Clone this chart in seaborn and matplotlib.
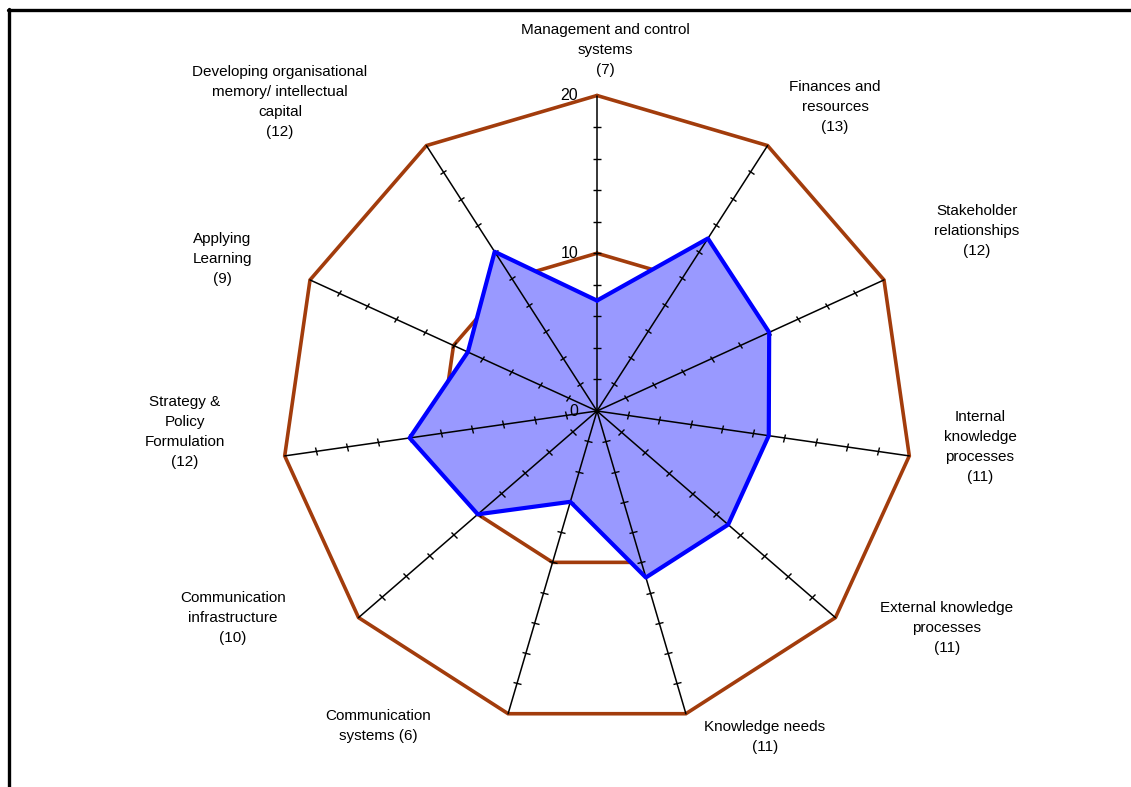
import numpy as np
import pandas as pd
import matplotlib
matplotlib.use("Agg")
import matplotlib.pyplot as plt
import seaborn as sns
from matplotlib.markers import MarkerStyle
from matplotlib.transforms import Affine2D
from matplotlib.lines import Line2D

# ---------------- data ----------------
categories = [
    "Management and control\nsystems",
    "Finances and\nresources",
    "Stakeholder\nrelationships",
    "Internal\nknowledge\nprocesses",
    "External knowledge\nprocesses",
    "Knowledge needs",
    "Communication\nsystems",
    "Communication\ninfrastructure",
    "Strategy &\nPolicy\nFormulation",
    "Applying\nLearning",
    "Developing organisational\nmemory/ intellectual\ncapital",
]
count_separators = ["\n", "\n", "\n", "\n", "\n", "\n", " ", "\n", "\n", "\n", "\n"]
scores = [7, 13, 12, 11, 11, 11, 6, 10, 12, 9, 12]
ring_levels = [10, 20]
scale_values = [0, 10, 20]
scale_labels = ["0", "10", "20"]
tick_values = [2, 4, 6, 8, 10, 12, 14, 16, 18]

# label centres in figure pixels (x, y from top)
label_pos = [(605, 50), (835, 107), (977, 231), (980, 447), (947, 628),
             (765, 737), (378, 726), (233, 618), (185, 432), (222, 259), (280, 102)]

W, H = 1131, 787
BROWN = "#A23C0C"
BLUE = "#0000FF"
FILL = "#9999FF"

sns.set_theme(style="white")
plt.rcParams["font.family"] = ["Liberation Sans", "DejaVu Sans"]

fig = plt.figure(figsize=(W / 100, H / 100), dpi=100)
fig.patch.set_facecolor("white")

cx, cy, R = 597, 411, 315.5
ax = fig.add_axes([(cx - R) / W, (H - cy - R) / H, 2 * R / W, 2 * R / H], projection="polar")
ax.set_theta_zero_location("N")
ax.set_theta_direction(-1)
ax.set_facecolor("none")

n = len(categories)
theta = np.linspace(0, 2 * np.pi, n, endpoint=False)
theta_c = np.append(theta, theta[0])

# rings
for lvl in ring_levels:
    ax.plot(theta_c, [lvl] * (n + 1), color=BROWN, lw=2.6, clip_on=False, zorder=1,
            solid_joinstyle="miter")

# filled series
sc = np.append(scores, scores[0])
ax.fill(theta_c, sc, color=FILL, zorder=2, clip_on=False)

# spokes
for th in theta:
    ax.plot([th, th], [0, 20], color="black", lw=1.1, zorder=3, clip_on=False)
    deg = np.degrees(th)
    ms = MarkerStyle("_", transform=Affine2D().rotate_deg(-deg))
    ax.plot([th] * len(tick_values), tick_values, linestyle="none", marker=ms,
            markersize=5.5, markeredgewidth=1.0, color="black", zorder=3, clip_on=False)

# series outline via seaborn
df = pd.DataFrame({"theta": theta_c, "score": sc})
sns.lineplot(data=df, x="theta", y="score", sort=False, estimator=None, ax=ax,
             color=BLUE, lw=3, zorder=4, clip_on=False)
ax.set_xlabel("")
ax.set_ylabel("")
ax.set_xticks([])
ax.set_yticks([])
ax.set_ylim(0, 20)
ax.grid(False)
ax.spines["polar"].set_visible(False)

# scale labels on the top spoke
for v, lab in zip(scale_values, scale_labels):
    ax.annotate(lab, xy=(0, v), xytext=(-19, 0), textcoords="offset pixels",
                ha="right", va="center", fontsize=11.5, color="black", zorder=5)

# category labels
for cat, sep, v, (px, py) in zip(categories, count_separators, scores, label_pos):
    fig.text(px / W, 1 - py / H, f"{cat}{sep}({v})", ha="center", va="center",
             multialignment="center", fontsize=11, linespacing=1.55, color="black")

# frame lines (top and left)
fig.add_artist(Line2D([8 / W, 1.0], [1 - 10 / H, 1 - 10 / H], transform=fig.transFigure,
                      color="black", lw=2.4))
fig.add_artist(Line2D([9 / W, 9 / W], [0, 1 - 9 / H], transform=fig.transFigure,
                      color="black", lw=2.4))

fig.savefig("out.png", dpi=100, facecolor="white")
